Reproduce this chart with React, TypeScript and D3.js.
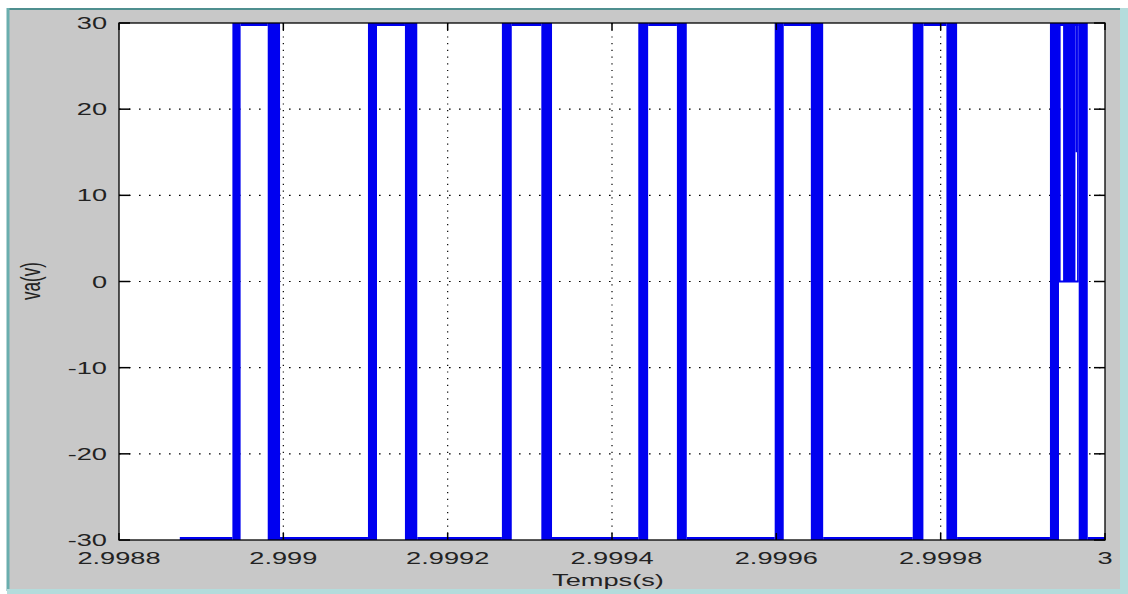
import React from "react"
import * as d3 from "d3"

// axis ticks
const xTicks = [2.9988, 2.999, 2.9992, 2.9994, 2.9996, 2.9998, 3]
const xTickLabels = ["2.9988", "2.999", "2.9992", "2.9994", "2.9996", "2.9998", "3"]
const yTicks = [-30, -20, -10, 0, 10, 20, 30]

// va(t): pulse train between -30 and 30, switching bands
const tFirst = 2.998874
const tLast = 3
const riseStart = [2.998938, 2.999103, 2.999266, 2.999432, 2.999598, 2.999766, 2.999933]
const riseEnd = [2.998948, 2.999114, 2.999278, 2.999444, 2.999609, 2.999779, 2.999944]
const fallStart = [2.998981, 2.999148, 2.999314, 2.999479, 2.999642, 2.999807, 2.999968]
const fallEnd = [2.998996, 2.999163, 2.999327, 2.999491, 2.999657, 2.999820, 2.999979]

// chattering between 0 and 30 in the last pulse
const chatterStart = [2.999944, 2.999949, 2.999964, 2.999966]
const chatterEnd = [2.999946, 2.999964, 2.999966, 2.999968]
const chatterLow = [0, 0, 15, 0]
const chatterHigh = [30, 30, 30, 30]

const W = 1128
const H = 594
const left = 119
const right = 1105
const top = 23
const bottom = 540
const blue = "#0000f0"
const font = "'Liberation Sans', Arial, sans-serif"
const sx = 1.6

export default function App() {
  const x = d3.scaleLinear().domain([2.9988, 3]).range([left, right])
  const y = d3.scaleLinear().domain([-30, 30]).range([bottom, top])

  // horizontal levels of the signal, one segment each
  const segs: [number, number][][] = [[[tFirst, -30], [riseStart[0], -30]]]
  riseStart.forEach((r, i) => {
    segs.push([[riseEnd[i], 30], [fallStart[i], 30]])
    const next = i + 1 < riseStart.length ? riseStart[i + 1] : tLast
    segs.push([[fallEnd[i], -30], [next, -30]])
  })
  const line = d3.line<[number, number]>().x(d => x(d[0])).y(d => y(d[1]))

  const bands = riseStart.flatMap((r, i) => [
    { t0: r, t1: riseEnd[i], lo: -30, hi: 30 },
    { t0: fallStart[i], t1: fallEnd[i], lo: -30, hi: 30 },
  ]).concat(chatterStart.map((c, i) => ({ t0: c, t1: chatterEnd[i], lo: chatterLow[i], hi: chatterHigh[i] })))

  const zeroSeg: [number, number][] = [[chatterStart[0], 0], [chatterEnd[chatterEnd.length - 1], 0]]

  return (
    <svg width={W} height={H} style={{ position: "absolute", left: 0, top: 0 }}>
      <rect x={0} y={0} width={W} height={H} fill="#ffffff" />
      <rect x={7} y={8} width={1115} height={583} fill="#c8c8c8" />
      <line x1={7} x2={1122} y1={9} y2={9} stroke="#4f8f8f" strokeWidth={2} />
      <line x1={8} x2={8} y1={8} y2={591} stroke="#6aaeae" strokeWidth={3} />
      <line x1={7} x2={1128} y1={591.5} y2={591.5} stroke="#b4dcdc" strokeWidth={5} />
      <line x1={1124} x2={1124} y1={8} y2={594} stroke="#b4dcdc" strokeWidth={8} />

      <defs>
        <clipPath id="plotClip">
          <rect x={left} y={top} width={right - left} height={bottom - top} />
        </clipPath>
      </defs>

      <rect x={left} y={top} width={right - left} height={bottom - top} fill="#ffffff" />

      {/* grid */}
      {yTicks.slice(1, -1).map(v => (
        <line key={"gy" + v} x1={left} x2={right} y1={y(v)} y2={y(v)}
          stroke="#000" strokeWidth={1.2} strokeDasharray="1.6 8.4" />
      ))}
      {xTicks.slice(1, -1).map(v => (
        <line key={"gx" + v} x1={x(v)} x2={x(v)} y1={top} y2={bottom}
          stroke="#000" strokeWidth={1.2} strokeDasharray="1.2 5.5" />
      ))}

      <g clipPath="url(#plotClip)">
        {segs.map((s, i) => (
          <path key={"s" + i} d={line(s) || ""} fill="none" stroke={blue} strokeWidth={6} />
        ))}
        <path d={line(zeroSeg) || ""} fill="none" stroke={blue} strokeWidth={2} />
        {bands.map((b, i) => (
          <rect key={"b" + i} x={x(b.t0)} y={y(b.hi)} width={x(b.t1) - x(b.t0)}
            height={y(b.lo) - y(b.hi)} fill={blue} />
        ))}
      </g>

      {/* axes box and ticks */}
      <rect x={left} y={top} width={right - left} height={bottom - top} fill="none" stroke="#000" strokeWidth={1.3} />
      {yTicks.map(v => (
        <g key={"ty" + v}>
          <line x1={left} x2={left + 11} y1={y(v)} y2={y(v)} stroke="#000" strokeWidth={1.5} />
          <line x1={right - 11} x2={right} y1={y(v)} y2={y(v)} stroke="#000" strokeWidth={1.5} />
          <text transform={`translate(107,${y(v)}) scale(${sx},1)`} textAnchor="end" dy="0.36em"
            fontFamily={font} fontSize={17} fill="#222">{v}</text>
        </g>
      ))}
      {xTicks.map((v, i) => (
        <g key={"tx" + v}>
          <line x1={x(v)} x2={x(v)} y1={bottom} y2={bottom - 7} stroke="#000" strokeWidth={1.5} />
          <line x1={x(v)} x2={x(v)} y1={top} y2={top + 7} stroke="#000" strokeWidth={1.5} />
          <text transform={`translate(${x(v)},564) scale(${sx},1)`} textAnchor="middle"
            fontFamily={font} fontSize={17} fill="#222">{xTickLabels[i]}</text>
        </g>
      ))}

      <text transform={`translate(608,586) scale(${sx},1)`} textAnchor="middle"
        fontFamily={font} fontSize={17} fill="#222">Temps(s)</text>
      <text transform={`translate(40,281) scale(${sx},1) rotate(-90)`} textAnchor="middle"
        fontFamily={font} fontSize={17} fill="#222">va(v)</text>
    </svg>
  )
}
